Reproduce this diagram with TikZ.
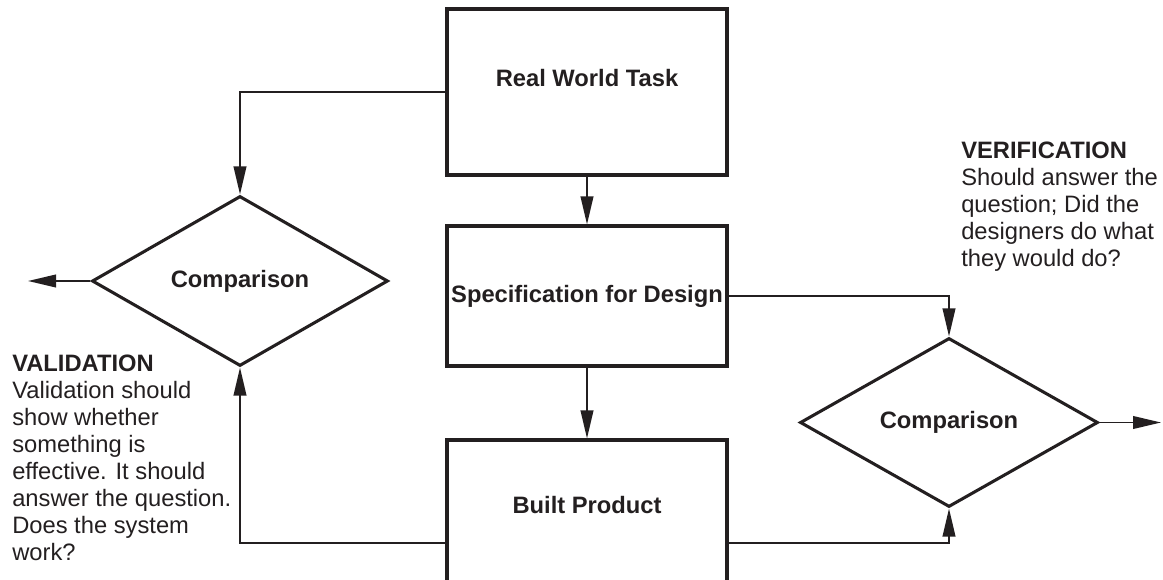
\documentclass[tikz,border=0pt]{standalone}
\usepackage{fontspec}
\setmainfont{Liberation Sans}
\usetikzlibrary{shapes.geometric,arrows.meta}
\definecolor{ink}{RGB}{35,31,32}
\begin{document}
\begin{tikzpicture}[x=0.75pt,y=-0.75pt, every node/.style={text=ink},
  boxlabel/.style={font=\fontsize{17.8}{20.25}\selectfont\bfseries, inner sep=0pt},
  box/.style={draw=ink, line width=2.3pt, minimum width=210pt, inner sep=0pt},
  dia/.style={draw=ink, diamond, line width=2.3pt, aspect=1.74, inner sep=0pt,
     font=\fontsize{17.8}{20.25}\selectfont\bfseries},
  conn/.style={draw=ink, line width=1.3pt, -{Triangle[length=21pt,width=9.5pt]}},
  note/.style={anchor=north west, align=left, inner sep=0pt, font=\fontsize{17.8}{20.25}\selectfont}]
\useasboundingbox (0,0) rectangle (1163,580);
\clip (0,0) rectangle (1163,580);
% boxes
\node[box, minimum height=124.5pt] (rwt) at (587,92) {};
\node[boxlabel] (rwtlabel) at (587,78) {Real World Task};
\node[box, minimum height=105pt, font=\fontsize{17.8}{20.25}\selectfont\bfseries] (spec) at (587,296) {Specification for Design};
\node[box, minimum height=154.5pt] (bp) at (587,543) {};
\node[boxlabel] (bplabel) at (587,505) {Built Product};
% diamonds
\node[dia, minimum width=222pt, minimum height=127.5pt] (cl) at (240,281) {Comparison};
\node[dia, minimum width=223.5pt, minimum height=126.75pt] (cr) at (949,422.5) {Comparison};
% free ends
\coordinate (outL) at (28,281);
\coordinate (outR) at (1161,422.5);
% connectors
\draw[conn] (rwt.west) -| (cl.north);
\draw[conn] (rwt.south) -- (spec.north);
\draw[conn] (spec.south) -- (bp.north);
\draw[conn] (cl.west) -- (outL);
\draw[conn] (bp.west) -| (cl.south);
\draw[conn] (spec.east) -| (cr.north);
\draw[conn] (bp.east) -| (cr.south);
\draw[conn] (cr.east) -- (outR);
% notes
\node[note] (valid) at (12,355) {\textbf{VALIDATION}\\Validation should\\show whether\\something is\\effective. It should\\answer the question.\\Does the system\\work?};
\node[note] (verif) at (961,142) {\textbf{VERIFICATION}\\Should answer the\\question; Did the\\designers do what\\they would do?};
\end{tikzpicture}
\end{document}
